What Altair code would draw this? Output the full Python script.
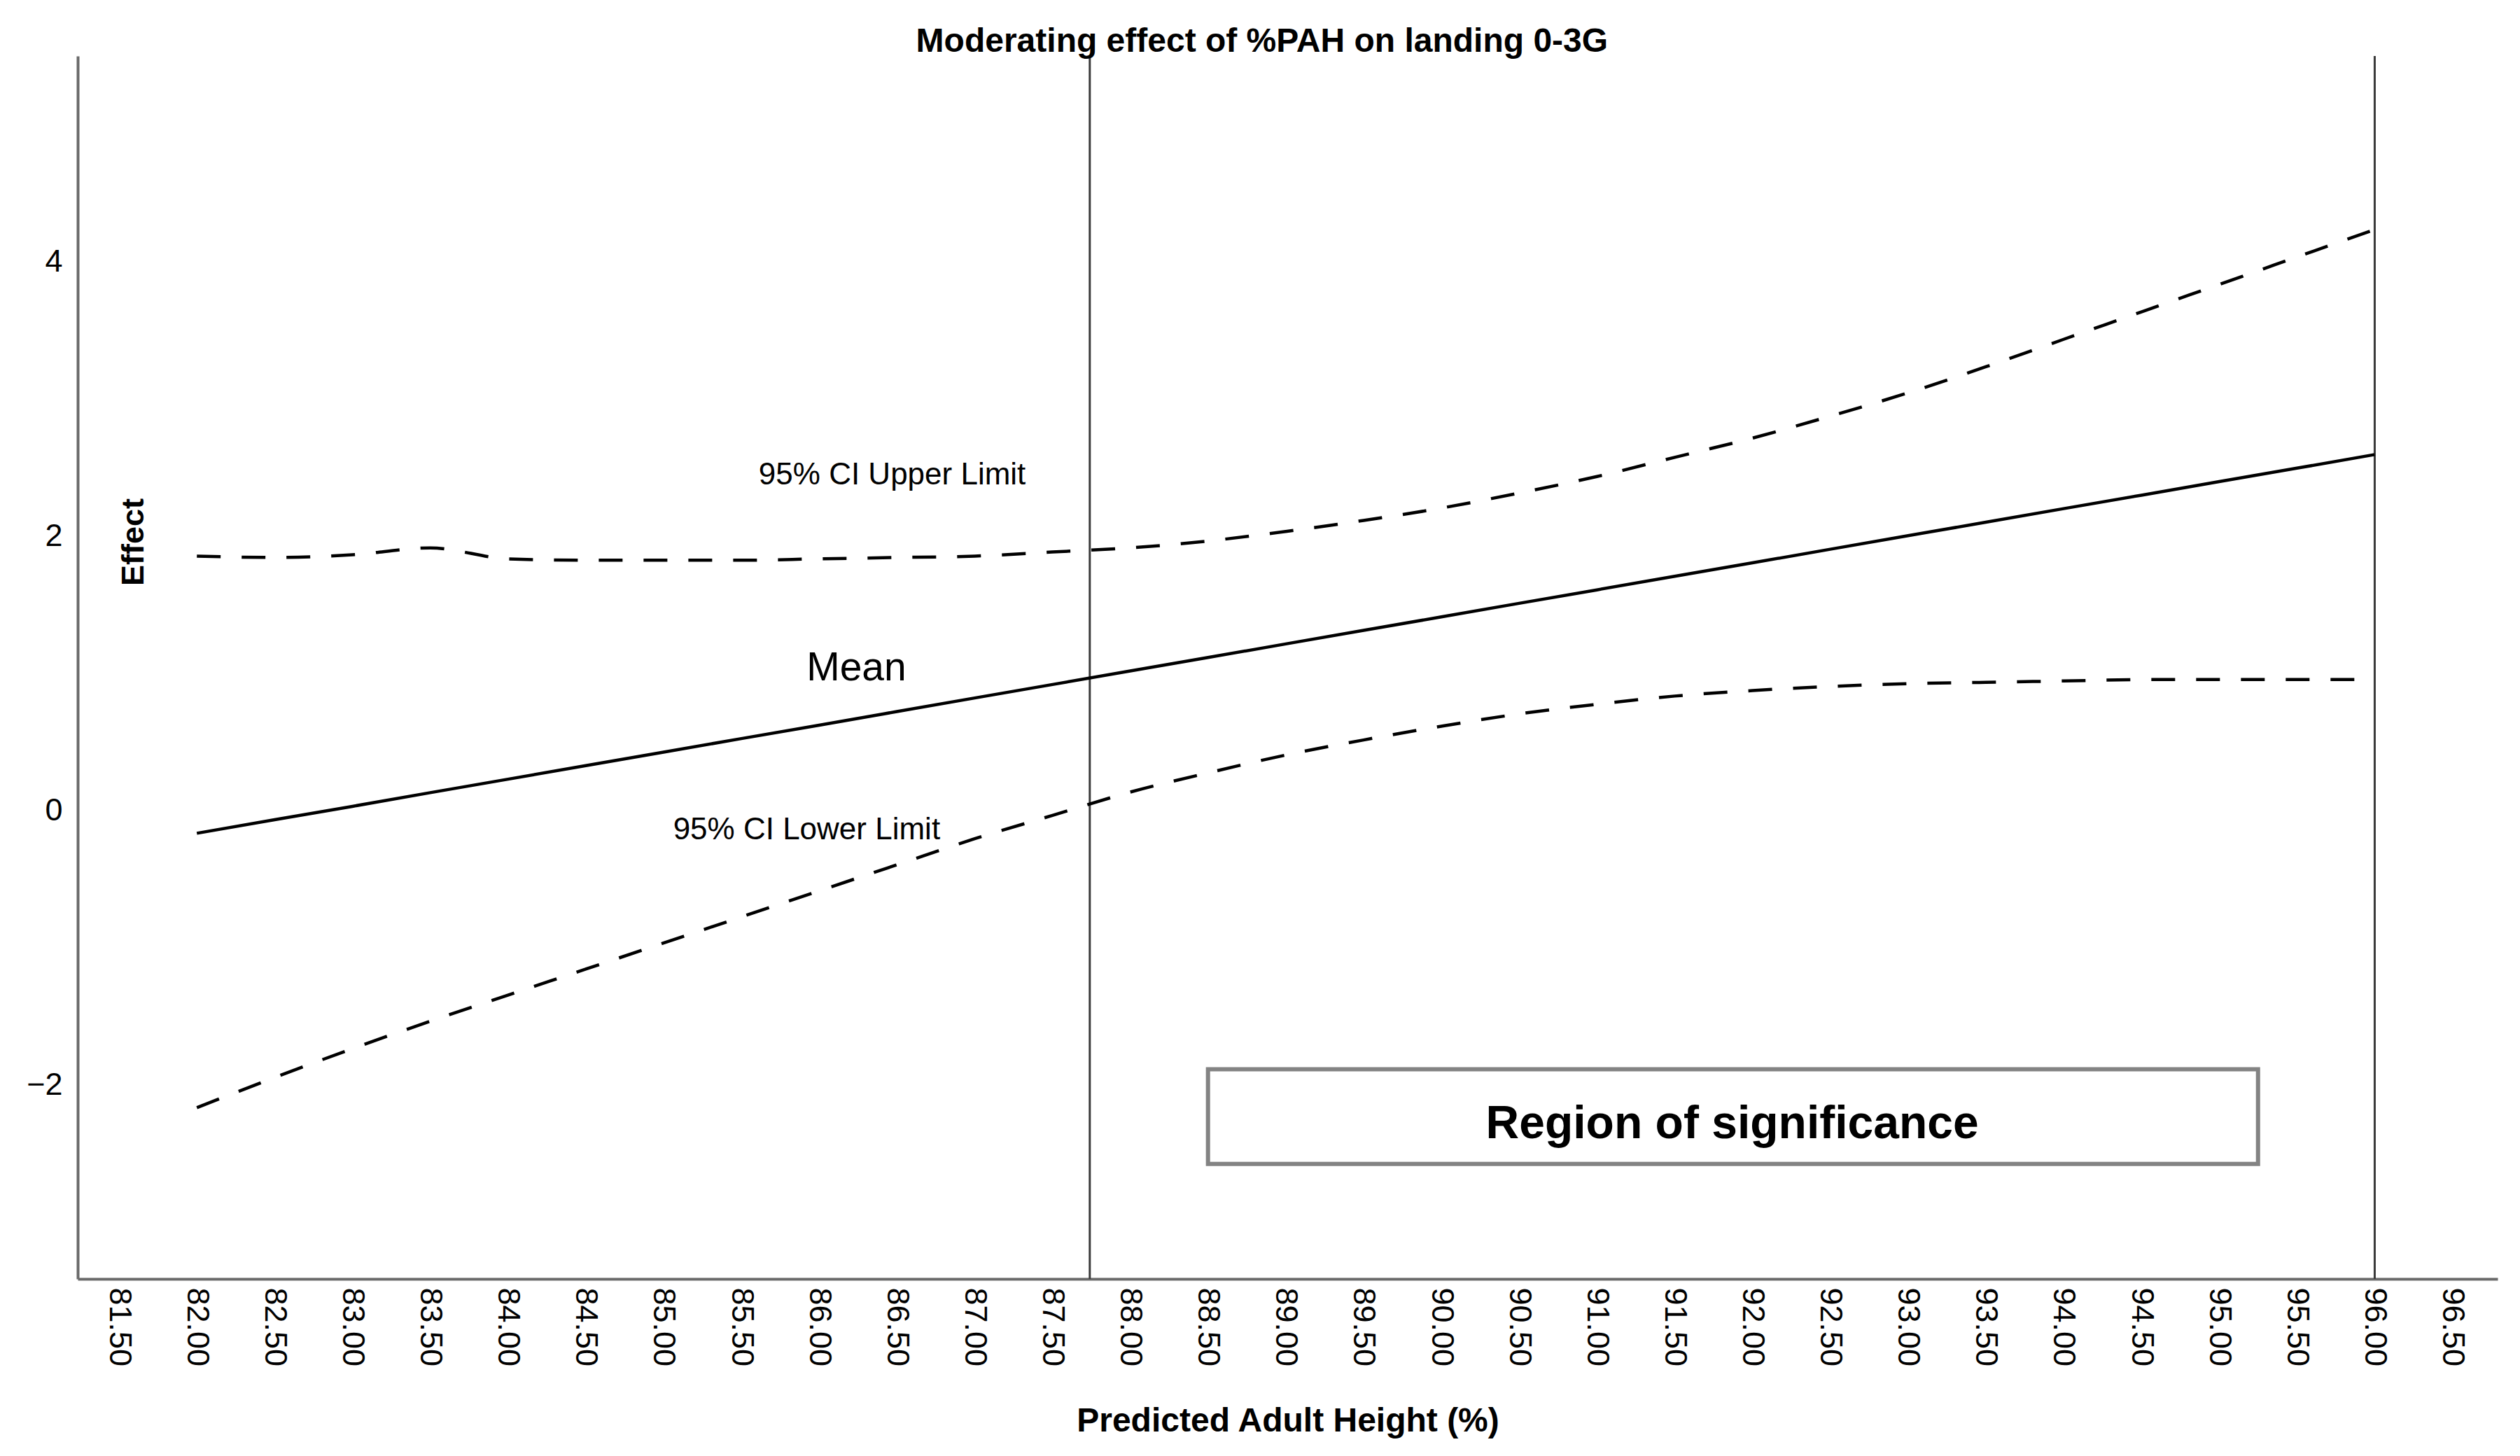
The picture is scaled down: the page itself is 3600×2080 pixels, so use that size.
import altair as alt
import pandas as pd

# ---- data ----
x_vals = [82.0, 82.5, 83.0, 83.5, 84.0, 84.5, 85.0, 85.5, 86.0, 86.5, 87.0, 87.5,
          88.0, 88.5, 89.0, 89.5, 90.0, 90.5, 91.0, 91.5, 92.0, 92.5, 93.0, 93.5,
          94.0, 94.5, 95.0, 95.5, 96.0]
mean_vals = [-0.170, -0.071, 0.026, 0.126, 0.224, 0.323, 0.421, 0.520, 0.618, 0.717,
             0.816, 0.914, 1.013, 1.111, 1.210, 1.309, 1.407, 1.506, 1.604, 1.703,
             1.801, 1.900, 1.999, 2.097, 2.196, 2.294, 2.393, 2.491, 2.590]
upper_vals = [1.85, 1.84, 1.86, 1.91, 1.83, 1.82, 1.82, 1.82, 1.83, 1.84, 1.85, 1.88,
              1.91, 1.96, 2.03, 2.11, 2.20, 2.31, 2.43, 2.57, 2.71, 2.87, 3.04, 3.23,
              3.43, 3.63, 3.83, 4.03, 4.23]
lower_vals = [-2.17, -1.95, -1.74, -1.54, -1.35, -1.16, -0.97, -0.78, -0.59, -0.40, -0.21, -0.04,
              0.13, 0.27, 0.40, 0.51, 0.61, 0.70, 0.77, 0.83, 0.87, 0.90, 0.92, 0.93,
              0.94, 0.95, 0.95, 0.95, 0.95]

x_ticks = [81.5, 82.0, 82.5, 83.0, 83.5, 84.0, 84.5, 85.0, 85.5, 86.0, 86.5, 87.0, 87.5,
           88.0, 88.5, 89.0, 89.5, 90.0, 90.5, 91.0, 91.5, 92.0, 92.5, 93.0, 93.5,
           94.0, 94.5, 95.0, 95.5, 96.0, 96.5]
y_ticks = [-2, 0, 2, 4]

rule_x = [87.74, 96.0]

small_labels = ["95% CI Upper Limit", "95% CI Lower Limit"]
small_label_x = [86.47, 85.92]
small_label_y = [2.44, -0.15]

mean_label = ["Mean"]
mean_label_x = [86.24]
mean_label_y = [1.03]

region_label = ["Region of significance"]
region_label_x = [91.87]
region_label_y = [-2.29]
region_box_x = [88.5]
region_box_x2 = [95.25]
region_box_y = [-1.89]
region_box_y2 = [-2.58]

x_domain = [81.234, 96.79]
y_domain = [-3.418, 5.495]

FONT = "Liberation Sans"

# ---- tables ----
mean_df = pd.DataFrame({"x": x_vals, "v": mean_vals})
ci_df = pd.concat([
    pd.DataFrame({"x": x_vals, "v": upper_vals, "s": "upper"}),
    pd.DataFrame({"x": x_vals, "v": lower_vals, "s": "lower"}),
])
rule_df = pd.DataFrame({"x": rule_x})
small_df = pd.DataFrame({"x": small_label_x, "y": small_label_y, "t": small_labels})
mean_lbl_df = pd.DataFrame({"x": mean_label_x, "y": mean_label_y, "t": mean_label})
region_df = pd.DataFrame({"x": region_label_x, "y": region_label_y, "t": region_label})
box_df = pd.DataFrame({"x": region_box_x, "x2": region_box_x2,
                       "y": region_box_y, "y2": region_box_y2})

xs = alt.Scale(domain=x_domain, nice=False, zero=False)
ys = alt.Scale(domain=y_domain, nice=False, zero=False)

x_axis = alt.Axis(
    values=x_ticks, format=".2f", labelAngle=90, labelFontSize=45, labelFont=FONT,
    labelColor="black", ticks=False, grid=False, domainColor="#6a6a6a", domainWidth=4,
    labelPadding=12, labelFlush=False, labelOverlap=False, labelBound=False,
    title="Predicted Adult Height (%)", titleFont=FONT, titleFontSize=48,
    titleFontWeight="bold", titleColor="black", titleY=203, titleBaseline="middle",
)
y_axis = alt.Axis(
    values=y_ticks, format="d", labelFontSize=45, labelFont=FONT, labelColor="black",
    ticks=False, grid=False, domainColor="#6a6a6a", domainWidth=4, labelPadding=22,
    title="Effect", titleFont=FONT, titleFontSize=45, titleFontWeight="bold",
    titleColor="black", titleX=79, titleY=694, titleAngle=270,
    titleAlign="center", titleBaseline="middle",
)

mean_line = alt.Chart(mean_df).mark_line(
    color="black", strokeWidth=4.5
).encode(
    x=alt.X("x:Q", scale=xs, axis=x_axis),
    y=alt.Y("v:Q", scale=ys, axis=y_axis),
)

ci_lines = alt.Chart(ci_df).mark_line(
    color="black", strokeWidth=4.5, strokeDash=[34, 30], interpolate="monotone"
).encode(
    x=alt.X("x:Q", scale=xs),
    y=alt.Y("v:Q", scale=ys),
    detail="s:N",
)

rules = alt.Chart(rule_df).mark_rule(color="#3a3a3a", strokeWidth=3).encode(
    x=alt.X("x:Q", scale=xs),
)

box = alt.Chart(box_df).mark_rect(
    fill="white", stroke="#838383", strokeWidth=6
).encode(
    x=alt.X("x:Q", scale=xs), x2="x2:Q",
    y=alt.Y("y:Q", scale=ys), y2="y2:Q",
)

small_text = alt.Chart(small_df).mark_text(
    font=FONT, fontSize=44, color="black", align="center", baseline="middle"
).encode(x=alt.X("x:Q", scale=xs), y=alt.Y("y:Q", scale=ys), text="t:N")

mean_text = alt.Chart(mean_lbl_df).mark_text(
    font=FONT, fontSize=57, color="black", align="center", baseline="middle"
).encode(x=alt.X("x:Q", scale=xs), y=alt.Y("y:Q", scale=ys), text="t:N")

region_text = alt.Chart(region_df).mark_text(
    font=FONT, fontSize=66, fontWeight="bold", color="black",
    align="center", baseline="middle"
).encode(x=alt.X("x:Q", scale=xs), y=alt.Y("y:Q", scale=ys), text="t:N")

chart = alt.layer(
    box, rules, ci_lines, mean_line, small_text, mean_text, region_text
).properties(
    width=3457,
    height=1747,
    padding={"left": 103, "top": 72, "right": 20, "bottom": 230},
    autosize=alt.AutoSizeParams(type="none"),
    title=alt.TitleParams(
        "Moderating effect of %PAH on landing 0-3G", font=FONT, fontSize=48,
        fontWeight="bold", color="black", anchor="middle", frame="bounds",
        offset=4, dy=9,
    ),
    background="white",
).configure_view(stroke=None)

chart.save("out.html", embed_options={"renderer": "svg", "actions": False})
